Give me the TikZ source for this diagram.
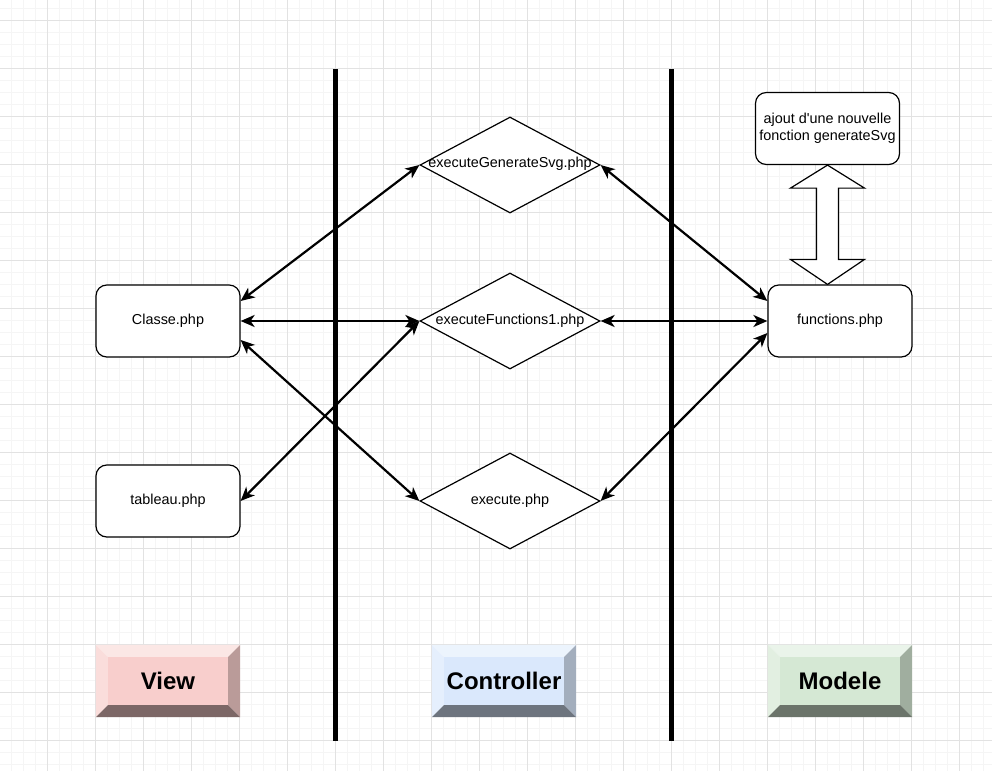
\documentclass[tikz,border=0pt]{standalone}
\usepackage{fontspec}
\setmainfont{Liberation Sans}
\font\aposfont="Liberation Sans" at 14.4pt
\usetikzlibrary{shapes.geometric,arrows.meta,calc}
\definecolor{viewc}{HTML}{F8CECC}
\definecolor{ctrlc}{HTML}{DAE8FC}
\definecolor{modc}{HTML}{D5E8D4}
\definecolor{gridmaj}{HTML}{E2E2E2}
\definecolor{gridmin}{HTML}{F5F5F5}
\newcommand{\bevelbox}[4]{%
  \node[minimum width=144pt,minimum height=72pt,inner sep=0] (#1) at #2 {};
  \fill[#3!50!white] (#1.north west) -- (#1.north east) -- ([shift={(-12pt,-12pt)}]#1.north east) -- ([shift={(12pt,-12pt)}]#1.north west) -- cycle;
  \fill[#3!70!white] (#1.north west) -- ([shift={(12pt,-12pt)}]#1.north west) -- ([shift={(12pt,12pt)}]#1.south west) -- (#1.south west) -- cycle;
  \fill[#3!75!black] (#1.north east) -- ([shift={(-12pt,-12pt)}]#1.north east) -- ([shift={(-12pt,12pt)}]#1.south east) -- (#1.south east) -- cycle;
  \fill[#3!50!black] (#1.south west) -- ([shift={(12pt,12pt)}]#1.south west) -- ([shift={(-12pt,12pt)}]#1.south east) -- (#1.south east) -- cycle;
  \node[fill=#3,minimum width=120pt,minimum height=48pt,inner sep=0,font=\bfseries\fontsize{24}{28}\selectfont] (#1face) at (#1) {#4};
}
\begin{document}
\begin{tikzpicture}[x=1pt,y=-1pt,
  txt/.style={font=\fontsize{14.4}{17.5}\selectfont},
  box/.style={draw,line width=1.2pt,rounded corners=10.8pt,minimum width=144pt,minimum height=72pt,inner sep=0,fill=white,txt},
  dia/.style={draw,line width=1.2pt,shape=diamond,aspect=1.875,minimum width=180pt,minimum height=96pt,inner sep=0,fill=white},
  conn/.style={line width=2.2pt,{Stealth[length=14pt,width=12pt,inset=4pt]}-{Stealth[length=14pt,width=12pt,inset=4pt]}},
  layer/.style={line width=4.6pt},
  minorgrid/.style={gridmin,line width=0.8pt},
  majorgrid/.style={gridmaj,line width=0.9pt}]
\useasboundingbox (0,0) rectangle (992,771);
\fill[white] (0,0) rectangle (992,771);
% grid
\foreach \i in {0,...,83} {\draw[minorgrid] (-0.7+12*\i,0) -- (-0.7+12*\i,771);}
\foreach \i in {0,...,64} {\draw[minorgrid] (0,8.3+12*\i) -- (992,8.3+12*\i);}
\foreach \i in {0,...,19} {\draw[majorgrid] (47.3+48*\i,0) -- (47.3+48*\i,771);}
\foreach \i in {0,...,15} {\draw[majorgrid] (0,20.3+48*\i) -- (992,20.3+48*\i);}
% layer separators
\coordinate (l1t) at (335.6,69);
\coordinate (l1b) at (335.6,741);
\coordinate (l2t) at (671.6,69);
\coordinate (l2b) at (671.6,741);
\draw[layer] (l1t) -- (l1b);
\draw[layer] (l2t) -- (l2b);
% nodes
\node[box] (classe) at (168,321) {Classe.php};
\node[box] (tab) at (168,501) {tableau.php};
\node[box] (func) at (840,321) {functions.php};
\node[box,align=center] (ajout) at (827.5,128.5) {ajout d{\aposfont'}une nouvelle\\fonction generateSvg};
\node[dia,label={[txt,yshift=1pt]center:executeGenerateSvg.php}] (gen) at (510,165) {};
\node[dia,label={[txt]center:executeFunctions1.php}] (fun1) at (510,321) {};
\node[dia,label={[txt]center:execute.php}] (exe) at (510,501) {};
% block double arrow
\coordinate (bt) at (ajout.south);
\coordinate (bb) at (ajout.south |- func.north);
\draw[line width=1.2pt,fill=white,line join=miter]
  (bt) -- ($(bt)+(37,23)$) -- ($(bt)+(11,23)$) -- ($(bb)+(11,-25)$) -- ($(bb)+(37,-25)$)
  -- (bb) -- ($(bb)+(-37,-25)$) -- ($(bb)+(-11,-25)$) -- ($(bt)+(-11,23)$) -- ($(bt)+(-37,23)$) -- cycle;
% connectors
\draw[conn] ([yshift=20pt]classe.east) -- (gen.west);
\draw[conn] (classe.east) -- (fun1.west);
\draw[conn] ([yshift=-19pt]classe.east) -- (exe.west);
\draw[conn] (tab.east) -- (fun1.west);
\draw[conn] (gen.east) -- ([yshift=20pt]func.west);
\draw[conn] (fun1.east) -- (func.west);
\draw[conn] (exe.east) -- ([yshift=-12pt]func.west);
% layer labels
\bevelbox{view}{(168,681)}{viewc}{View}
\bevelbox{ctrl}{(504,681)}{ctrlc}{Controller}
\bevelbox{model}{(840,681)}{modc}{Modele}
\end{tikzpicture}
\end{document}
